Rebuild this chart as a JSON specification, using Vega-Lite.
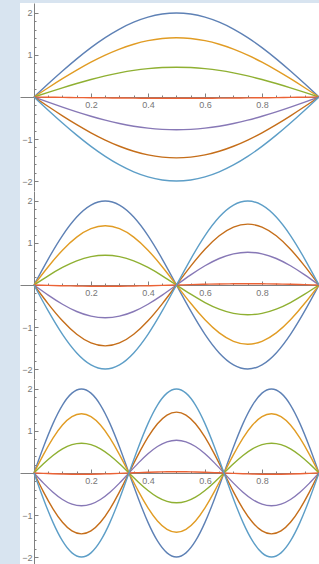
{
"$schema": "https://vega.github.io/schema/vega-lite/v6.json",
"autosize": {"type": "pad"},
"padding": {"left": 20, "top": 3, "right": 0, "bottom": 0},
"background": "#d8e4f0",
"config": {"view": {"fill": "white", "stroke": null}},
"spacing": 0,
"bounds": "flush",
"data": {"values": [
{"p":1,"x":0,"a":0,"b":0,"c":0,"d":0,"e":0,"f":0,"g":0},
{"p":1,"x":0.05,"a":0.313,"b":0.221,"c":0.111,"d":-0.005,"e":-0.122,"f":-0.227,"g":-0.313},
{"p":1,"x":0.1,"a":0.618,"b":0.436,"c":0.219,"d":-0.009,"e":-0.241,"f":-0.448,"g":-0.618},
{"p":1,"x":0.15,"a":0.908,"b":0.640,"c":0.322,"d":-0.014,"e":-0.354,"f":-0.658,"g":-0.908},
{"p":1,"x":0.2,"a":1.176,"b":0.829,"c":0.417,"d":-0.018,"e":-0.458,"f":-0.852,"g":-1.176},
{"p":1,"x":0.25,"a":1.414,"b":0.997,"c":0.502,"d":-0.021,"e":-0.552,"f":-1.025,"g":-1.414},
{"p":1,"x":0.3,"a":1.618,"b":1.141,"c":0.574,"d":-0.024,"e":-0.631,"f":-1.173,"g":-1.618},
{"p":1,"x":0.35,"a":1.782,"b":1.256,"c":0.633,"d":-0.027,"e":-0.695,"f":-1.292,"g":-1.782},
{"p":1,"x":0.4,"a":1.902,"b":1.341,"c":0.675,"d":-0.029,"e":-0.742,"f":-1.379,"g":-1.902},
{"p":1,"x":0.45,"a":1.975,"b":1.393,"c":0.701,"d":-0.030,"e":-0.770,"f":-1.432,"g":-1.975},
{"p":1,"x":0.5,"a":2,"b":1.41,"c":0.71,"d":-0.03,"e":-0.78,"f":-1.45,"g":-2},
{"p":1,"x":0.55,"a":1.975,"b":1.393,"c":0.701,"d":-0.030,"e":-0.770,"f":-1.432,"g":-1.975},
{"p":1,"x":0.6,"a":1.902,"b":1.341,"c":0.675,"d":-0.029,"e":-0.742,"f":-1.379,"g":-1.902},
{"p":1,"x":0.65,"a":1.782,"b":1.256,"c":0.633,"d":-0.027,"e":-0.695,"f":-1.292,"g":-1.782},
{"p":1,"x":0.7,"a":1.618,"b":1.141,"c":0.574,"d":-0.024,"e":-0.631,"f":-1.173,"g":-1.618},
{"p":1,"x":0.75,"a":1.414,"b":0.997,"c":0.502,"d":-0.021,"e":-0.552,"f":-1.025,"g":-1.414},
{"p":1,"x":0.8,"a":1.176,"b":0.829,"c":0.417,"d":-0.018,"e":-0.458,"f":-0.852,"g":-1.176},
{"p":1,"x":0.85,"a":0.908,"b":0.640,"c":0.322,"d":-0.014,"e":-0.354,"f":-0.658,"g":-0.908},
{"p":1,"x":0.9,"a":0.618,"b":0.436,"c":0.219,"d":-0.009,"e":-0.241,"f":-0.448,"g":-0.618},
{"p":1,"x":0.95,"a":0.313,"b":0.221,"c":0.111,"d":-0.005,"e":-0.122,"f":-0.227,"g":-0.313},
{"p":1,"x":1,"a":0,"b":0,"c":0,"d":0,"e":0,"f":0,"g":0},
{"p":2,"x":0,"a":0,"b":0,"c":0,"d":0,"e":0,"f":0,"g":0},
{"p":2,"x":0.05,"a":0.618,"b":0.436,"c":0.219,"d":-0.009,"e":-0.241,"f":-0.448,"g":-0.618},
{"p":2,"x":0.1,"a":1.176,"b":0.829,"c":0.417,"d":-0.018,"e":-0.458,"f":-0.852,"g":-1.176},
{"p":2,"x":0.15,"a":1.618,"b":1.141,"c":0.574,"d":-0.024,"e":-0.631,"f":-1.173,"g":-1.618},
{"p":2,"x":0.2,"a":1.902,"b":1.341,"c":0.675,"d":-0.029,"e":-0.742,"f":-1.379,"g":-1.902},
{"p":2,"x":0.25,"a":2,"b":1.41,"c":0.71,"d":-0.03,"e":-0.78,"f":-1.45,"g":-2},
{"p":2,"x":0.3,"a":1.902,"b":1.341,"c":0.675,"d":-0.029,"e":-0.742,"f":-1.379,"g":-1.902},
{"p":2,"x":0.35,"a":1.618,"b":1.141,"c":0.574,"d":-0.024,"e":-0.631,"f":-1.173,"g":-1.618},
{"p":2,"x":0.4,"a":1.176,"b":0.829,"c":0.417,"d":-0.018,"e":-0.458,"f":-0.852,"g":-1.176},
{"p":2,"x":0.45,"a":0.618,"b":0.436,"c":0.219,"d":-0.009,"e":-0.241,"f":-0.448,"g":-0.618},
{"p":2,"x":0.5,"a":0,"b":0,"c":0,"d":0,"e":0,"f":0,"g":0},
{"p":2,"x":0.55,"a":-0.618,"b":-0.436,"c":-0.219,"d":0.009,"e":0.241,"f":0.448,"g":0.618},
{"p":2,"x":0.6,"a":-1.176,"b":-0.829,"c":-0.417,"d":0.018,"e":0.458,"f":0.852,"g":1.176},
{"p":2,"x":0.65,"a":-1.618,"b":-1.141,"c":-0.574,"d":0.024,"e":0.631,"f":1.173,"g":1.618},
{"p":2,"x":0.7,"a":-1.902,"b":-1.341,"c":-0.675,"d":0.029,"e":0.742,"f":1.379,"g":1.902},
{"p":2,"x":0.75,"a":-2,"b":-1.41,"c":-0.71,"d":0.03,"e":0.78,"f":1.45,"g":2},
{"p":2,"x":0.8,"a":-1.902,"b":-1.341,"c":-0.675,"d":0.029,"e":0.742,"f":1.379,"g":1.902},
{"p":2,"x":0.85,"a":-1.618,"b":-1.141,"c":-0.574,"d":0.024,"e":0.631,"f":1.173,"g":1.618},
{"p":2,"x":0.9,"a":-1.176,"b":-0.829,"c":-0.417,"d":0.018,"e":0.458,"f":0.852,"g":1.176},
{"p":2,"x":0.95,"a":-0.618,"b":-0.436,"c":-0.219,"d":0.009,"e":0.241,"f":0.448,"g":0.618},
{"p":2,"x":1,"a":0,"b":0,"c":0,"d":0,"e":0,"f":0,"g":0},
{"p":3,"x":0,"a":0,"b":0,"c":0,"d":0,"e":0,"f":0,"g":0},
{"p":3,"x":0.0333,"a":0.618,"b":0.436,"c":0.219,"d":-0.009,"e":-0.241,"f":-0.448,"g":-0.618},
{"p":3,"x":0.0667,"a":1.176,"b":0.829,"c":0.417,"d":-0.018,"e":-0.458,"f":-0.852,"g":-1.176},
{"p":3,"x":0.1,"a":1.618,"b":1.141,"c":0.574,"d":-0.024,"e":-0.631,"f":-1.173,"g":-1.618},
{"p":3,"x":0.1333,"a":1.902,"b":1.341,"c":0.675,"d":-0.029,"e":-0.742,"f":-1.379,"g":-1.902},
{"p":3,"x":0.1667,"a":2,"b":1.41,"c":0.71,"d":-0.03,"e":-0.78,"f":-1.45,"g":-2},
{"p":3,"x":0.2,"a":1.902,"b":1.341,"c":0.675,"d":-0.029,"e":-0.742,"f":-1.379,"g":-1.902},
{"p":3,"x":0.2333,"a":1.618,"b":1.141,"c":0.574,"d":-0.024,"e":-0.631,"f":-1.173,"g":-1.618},
{"p":3,"x":0.2667,"a":1.176,"b":0.829,"c":0.417,"d":-0.018,"e":-0.458,"f":-0.852,"g":-1.176},
{"p":3,"x":0.3,"a":0.618,"b":0.436,"c":0.219,"d":-0.009,"e":-0.241,"f":-0.448,"g":-0.618},
{"p":3,"x":0.3333,"a":0,"b":0,"c":0,"d":0,"e":0,"f":0,"g":0},
{"p":3,"x":0.3667,"a":-0.618,"b":-0.436,"c":-0.219,"d":0.009,"e":0.241,"f":0.448,"g":0.618},
{"p":3,"x":0.4,"a":-1.176,"b":-0.829,"c":-0.417,"d":0.018,"e":0.458,"f":0.852,"g":1.176},
{"p":3,"x":0.4333,"a":-1.618,"b":-1.141,"c":-0.574,"d":0.024,"e":0.631,"f":1.173,"g":1.618},
{"p":3,"x":0.4667,"a":-1.902,"b":-1.341,"c":-0.675,"d":0.029,"e":0.742,"f":1.379,"g":1.902},
{"p":3,"x":0.5,"a":-2,"b":-1.41,"c":-0.71,"d":0.03,"e":0.78,"f":1.45,"g":2},
{"p":3,"x":0.5333,"a":-1.902,"b":-1.341,"c":-0.675,"d":0.029,"e":0.742,"f":1.379,"g":1.902},
{"p":3,"x":0.5667,"a":-1.618,"b":-1.141,"c":-0.574,"d":0.024,"e":0.631,"f":1.173,"g":1.618},
{"p":3,"x":0.6,"a":-1.176,"b":-0.829,"c":-0.417,"d":0.018,"e":0.458,"f":0.852,"g":1.176},
{"p":3,"x":0.6333,"a":-0.618,"b":-0.436,"c":-0.219,"d":0.009,"e":0.241,"f":0.448,"g":0.618},
{"p":3,"x":0.6667,"a":0,"b":0,"c":0,"d":0,"e":0,"f":0,"g":0},
{"p":3,"x":0.7,"a":0.618,"b":0.436,"c":0.219,"d":-0.009,"e":-0.241,"f":-0.448,"g":-0.618},
{"p":3,"x":0.7333,"a":1.176,"b":0.829,"c":0.417,"d":-0.018,"e":-0.458,"f":-0.852,"g":-1.176},
{"p":3,"x":0.7667,"a":1.618,"b":1.141,"c":0.574,"d":-0.024,"e":-0.631,"f":-1.173,"g":-1.618},
{"p":3,"x":0.8,"a":1.902,"b":1.341,"c":0.675,"d":-0.029,"e":-0.742,"f":-1.379,"g":-1.902},
{"p":3,"x":0.8333,"a":2,"b":1.41,"c":0.71,"d":-0.03,"e":-0.78,"f":-1.45,"g":-2},
{"p":3,"x":0.8667,"a":1.902,"b":1.341,"c":0.675,"d":-0.029,"e":-0.742,"f":-1.379,"g":-1.902},
{"p":3,"x":0.9,"a":1.618,"b":1.141,"c":0.574,"d":-0.024,"e":-0.631,"f":-1.173,"g":-1.618},
{"p":3,"x":0.9333,"a":1.176,"b":0.829,"c":0.417,"d":-0.018,"e":-0.458,"f":-0.852,"g":-1.176},
{"p":3,"x":0.9667,"a":0.618,"b":0.436,"c":0.219,"d":-0.009,"e":-0.241,"f":-0.448,"g":-0.618},
{"p":3,"x":1,"a":0,"b":0,"c":0,"d":0,"e":0,"f":0,"g":0}
]},
"transform": [{"fold": ["a","b","c","d","e","f","g"], "as": ["curve","y"]}],
"vconcat": [
{"width": 299, "height": 188,
 "transform": [{"filter": "datum.p === 1"}],
 "mark": {"type": "line", "interpolate": "natural", "strokeWidth": 1.4, "clip": true},
 "encoding": {
  "x": {"field": "x", "type": "quantitative", "scale": {"domain": [-0.049, 1], "nice": false, "zero": false},
   "axis": {"orient": "bottom", "offset": -94, "title": null, "grid": false, "values": [0.05,0.1,0.15,0.2,0.25,0.3,0.35,0.4,0.45,0.5,0.55,0.6,0.65,0.7,0.75,0.8,0.85,0.9,0.95],
    "labelExpr": "abs(datum.value*5 - round(datum.value*5)) < 0.001 ? format(datum.value, '.1f') : ''",
    "tickSize": {"condition": {"test": "abs(datum.value*5 - round(datum.value*5)) < 0.001", "value": -4}, "value": -2},
    "labelPadding": 7, "labelFontSize": 9, "labelFont": "Liberation Sans", "labelColor": "#777777", "domainColor": "#808080", "tickColor": "#808080", "labelFlush": false, "labelOverlap": false}},
  "y": {"field": "y", "type": "quantitative", "scale": {"domain": [-2.238, 2.238], "nice": false},
   "axis": {"orient": "left", "offset": -14, "title": null, "grid": false, "values": [-2,-1.8,-1.6,-1.4,-1.2,-1,-0.8,-0.6,-0.4,-0.2,0,0.2,0.4,0.6,0.8,1,1.2,1.4,1.6,1.8,2],
    "labelExpr": "datum.value !== 0 && abs(datum.value - round(datum.value)) < 0.001 ? format(datum.value, 'd') : ''",
    "tickSize": {"condition": {"test": "abs(datum.value - round(datum.value)) < 0.001", "value": -4}, "value": -2},
    "labelPadding": 6, "labelFontSize": 9, "labelFont": "Liberation Sans", "labelColor": "#777777", "domainColor": "#808080", "tickColor": "#808080", "labelOverlap": false, "labelFlush": false}},
  "color": {"field": "curve", "type": "nominal", "legend": null, "scale": {"domain": ["a","b","c","d","e","f","g"], "range": ["#5E81B5","#E19C24","#8FB032","#EB6235","#8778B6","#C56E1A","#5D9EC7"]}}
 }},
{"width": 299, "height": 188,
 "transform": [{"filter": "datum.p === 2"}],
 "mark": {"type": "line", "interpolate": "natural", "strokeWidth": 1.4, "clip": true},
 "encoding": {
  "x": {"field": "x", "type": "quantitative", "scale": {"domain": [-0.049, 1], "nice": false, "zero": false},
   "axis": {"orient": "bottom", "offset": -94, "title": null, "grid": false, "values": [0.05,0.1,0.15,0.2,0.25,0.3,0.35,0.4,0.45,0.5,0.55,0.6,0.65,0.7,0.75,0.8,0.85,0.9,0.95],
    "labelExpr": "abs(datum.value*5 - round(datum.value*5)) < 0.001 ? format(datum.value, '.1f') : ''",
    "tickSize": {"condition": {"test": "abs(datum.value*5 - round(datum.value*5)) < 0.001", "value": -4}, "value": -2},
    "labelPadding": 7, "labelFontSize": 9, "labelFont": "Liberation Sans", "labelColor": "#777777", "domainColor": "#808080", "tickColor": "#808080", "labelFlush": false, "labelOverlap": false}},
  "y": {"field": "y", "type": "quantitative", "scale": {"domain": [-2.238, 2.238], "nice": false},
   "axis": {"orient": "left", "offset": -14, "title": null, "grid": false, "values": [-2,-1.8,-1.6,-1.4,-1.2,-1,-0.8,-0.6,-0.4,-0.2,0,0.2,0.4,0.6,0.8,1,1.2,1.4,1.6,1.8,2],
    "labelExpr": "datum.value !== 0 && abs(datum.value - round(datum.value)) < 0.001 ? format(datum.value, 'd') : ''",
    "tickSize": {"condition": {"test": "abs(datum.value - round(datum.value)) < 0.001", "value": -4}, "value": -2},
    "labelPadding": 6, "labelFontSize": 9, "labelFont": "Liberation Sans", "labelColor": "#777777", "domainColor": "#808080", "tickColor": "#808080", "labelOverlap": false, "labelFlush": false}},
  "color": {"field": "curve", "type": "nominal", "legend": null, "scale": {"domain": ["a","b","c","d","e","f","g"], "range": ["#5E81B5","#E19C24","#8FB032","#EB6235","#8778B6","#C56E1A","#5D9EC7"]}}
 }},
{"width": 299, "height": 188,
 "transform": [{"filter": "datum.p === 3"}],
 "mark": {"type": "line", "interpolate": "natural", "strokeWidth": 1.4, "clip": true},
 "encoding": {
  "x": {"field": "x", "type": "quantitative", "scale": {"domain": [-0.049, 1], "nice": false, "zero": false},
   "axis": {"orient": "bottom", "offset": -94, "title": null, "grid": false, "values": [0.05,0.1,0.15,0.2,0.25,0.3,0.35,0.4,0.45,0.5,0.55,0.6,0.65,0.7,0.75,0.8,0.85,0.9,0.95],
    "labelExpr": "abs(datum.value*5 - round(datum.value*5)) < 0.001 ? format(datum.value, '.1f') : ''",
    "tickSize": {"condition": {"test": "abs(datum.value*5 - round(datum.value*5)) < 0.001", "value": -4}, "value": -2},
    "labelPadding": 7, "labelFontSize": 9, "labelFont": "Liberation Sans", "labelColor": "#777777", "domainColor": "#808080", "tickColor": "#808080", "labelFlush": false, "labelOverlap": false}},
  "y": {"field": "y", "type": "quantitative", "scale": {"domain": [-2.238, 2.238], "nice": false},
   "axis": {"orient": "left", "offset": -14, "title": null, "grid": false, "values": [-2,-1.8,-1.6,-1.4,-1.2,-1,-0.8,-0.6,-0.4,-0.2,0,0.2,0.4,0.6,0.8,1,1.2,1.4,1.6,1.8,2],
    "labelExpr": "datum.value !== 0 && abs(datum.value - round(datum.value)) < 0.001 ? format(datum.value, 'd') : ''",
    "tickSize": {"condition": {"test": "abs(datum.value - round(datum.value)) < 0.001", "value": -4}, "value": -2},
    "labelPadding": 6, "labelFontSize": 9, "labelFont": "Liberation Sans", "labelColor": "#777777", "domainColor": "#808080", "tickColor": "#808080", "labelOverlap": false, "labelFlush": false}},
  "color": {"field": "curve", "type": "nominal", "legend": null, "scale": {"domain": ["a","b","c","d","e","f","g"], "range": ["#5E81B5","#E19C24","#8FB032","#EB6235","#8778B6","#C56E1A","#5D9EC7"]}}
 }}
]
}
